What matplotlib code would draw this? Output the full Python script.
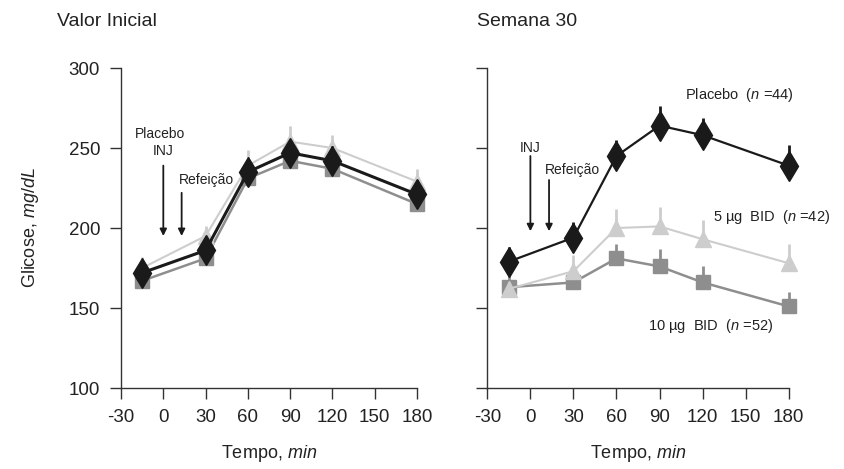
import matplotlib
matplotlib.use("Agg")
import matplotlib.pyplot as plt

# glucose profiles (mg/dL)
times = [-15, 30, 60, 90, 120, 180]

base_placebo = [172, 186, 235, 247, 242, 221]
base_5ug = [175, 195, 239, 254, 250, 229]
base_10ug = [167, 181, 231, 242, 237, 215]
base_placebo_err = [7, 7, 8, 8, 9, 9]
base_5ug_err = [7, 6, 10, 10, 8, 8]
base_10ug_err = [6, 6, 7, 7, 7, 7]

w30_placebo = [179, 194, 245, 264, 258, 239]
w30_5ug = [162, 173, 200, 201, 193, 178]
w30_10ug = [163, 166, 181, 176, 166, 151]
w30_placebo_err = [9, 10, 10, 12, 11, 13]
w30_5ug_err = [4, 10, 12, 12, 12, 12]
w30_10ug_err = [7, 5, 9, 11, 10, 9]

xticks = [-30, 0, 30, 60, 90, 120, 150, 180]
yticks = [100, 150, 200, 250, 300]

plt.rcParams["font.family"] = ["Liberation Sans", "DejaVu Sans"]
plt.rcParams["mathtext.fontset"] = "custom"
plt.rcParams["mathtext.rm"] = "Liberation Sans"
plt.rcParams["mathtext.it"] = "Liberation Sans:italic"
plt.rcParams["axes.unicode_minus"] = False

black = "#1a1a1a"
light = "#cdcdcd"
gray = "#8e8e8e"

fig = plt.figure(figsize=(8.44, 4.69), dpi=100)
ax1 = fig.add_axes([0.1434, 0.1727, 0.3507, 0.6823])
ax2 = fig.add_axes([0.5774, 0.1727, 0.3571, 0.6823])


def draw(ax, pl, pl_e, lo, lo_e, hi, hi_e, lw_pl):
    for line in [
        ax.errorbar(times, hi, yerr=[[0] * 6, hi_e], color=gray, lw=1.8, elinewidth=2,
                    marker="s", ms=10, mec=gray, capsize=0, zorder=2),
        ax.errorbar(times, lo, yerr=[[0] * 6, lo_e], color=light, lw=1.5, elinewidth=2,
                    marker="^", ms=12, mec=light, capsize=0, zorder=3),
        ax.errorbar(times, pl, yerr=[[0] * 6, pl_e], color=black, lw=lw_pl, elinewidth=2,
                    marker="d", ms=15, mec=black, capsize=0, zorder=4),
    ]:
        for artist in line.get_children():
            artist.set_clip_on(False)
    ax.set_xlim(-30, 180)
    ax.set_ylim(100, 300)
    ax.set_xticks(xticks)
    ax.set_yticks(yticks)
    for s in ["top", "right"]:
        ax.spines[s].set_visible(False)
    for s in ["left", "bottom"]:
        ax.spines[s].set_color("#333333")
        ax.spines[s].set_linewidth(1)
    ax.tick_params(direction="out", length=8, width=1, color="#333333",
                   labelsize=13.5, pad=7, labelcolor="#222222")
    ax.set_xlabel("Tempo, $min$", fontsize=13, labelpad=12, color="#222222")


draw(ax1, base_placebo, base_placebo_err, base_5ug, base_5ug_err,
     base_10ug, base_10ug_err, 2.2)
draw(ax2, w30_placebo, w30_placebo_err, w30_5ug, w30_5ug_err,
     w30_10ug, w30_10ug_err, 1.6)

ax2.tick_params(labelleft=False)
ax1.set_ylabel("Glicose, $mg/dL$", fontsize=13, labelpad=20, color="#222222")

fig.text(0.068, 0.955, "Valor Inicial", fontsize=14, va="center", color="#222222")
fig.text(0.565, 0.955, "Semana 30", fontsize=14, va="center", color="#222222")

arrow = dict(arrowstyle="-|>", color=black, lw=1.3, mutation_scale=10, shrinkA=0, shrinkB=0)
txt = dict(fontsize=10, color="#222222")

# left annotations
ax1.text(-2, 259, "Placebo", ha="center", va="center", **txt)
ax1.text(0, 248, "INJ", ha="center", va="center", **txt)
ax1.text(11, 230, "Refeição", ha="left", va="center", **txt)
ax1.annotate("", xy=(0, 195), xytext=(0, 239), arrowprops=arrow)
ax1.annotate("", xy=(13, 195), xytext=(13, 222), arrowprops=arrow)

# right annotations
ax2.text(0, 250, "INJ", ha="center", va="center", **txt)
ax2.text(10, 236, "Refeição", ha="left", va="center", **txt)
ax2.annotate("", xy=(0, 198), xytext=(0, 245), arrowprops=arrow)
ax2.annotate("", xy=(13, 198), xytext=(13, 230), arrowprops=arrow)

lab = dict(fontsize=10.5, color="#222222")
ax2.text(108, 283, "Placebo  ($n$ =44)", ha="left", va="center", **lab)
ax2.text(127, 207, "5 µg  BID  ($n$ =42)", ha="left", va="center", **lab)
ax2.text(82, 139, "10 µg  BID  ($n$ =52)", ha="left", va="center", **lab)

fig.savefig("out.png", dpi=100)
